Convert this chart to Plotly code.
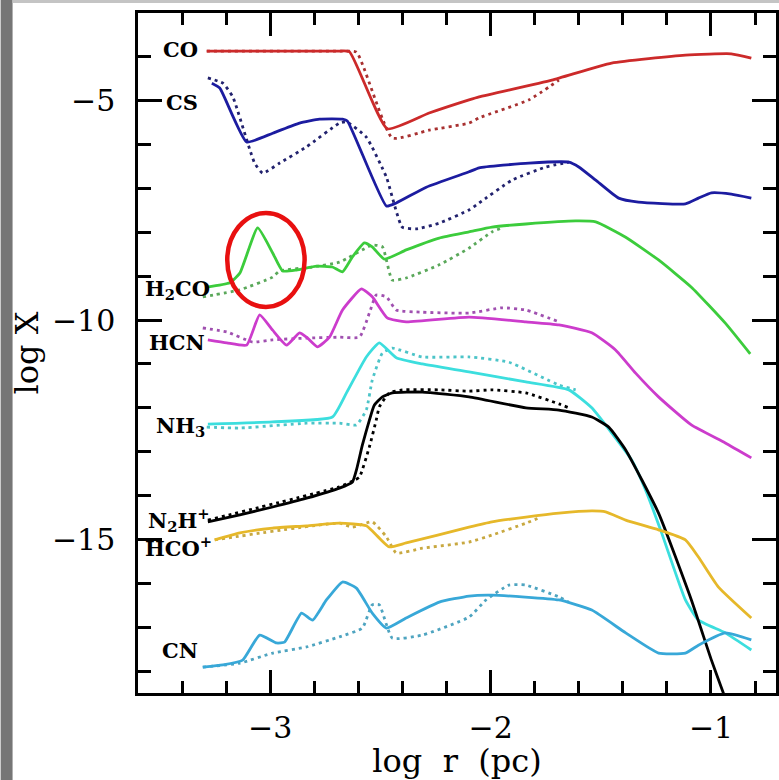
import plotly.graph_objects as go

# ---------------- data (log r [pc], log X) ----------------
co_x  = [-3.288, -2.960, -2.700, -2.641, -2.469, -2.279, -2.098, -2.052, -1.722, -1.451, -1.116, -0.908, -0.817]
co_y  = [-3.87, -3.87, -3.87, -3.88, -5.64, -5.28, -4.98, -4.91, -4.53, -4.14, -3.96, -3.93, -4.03]
co_dx = [-3.288, -2.960, -2.680, -2.609, -2.446, -2.279, -2.098, -2.052, -1.826, -1.690]
co_dy = [-3.87, -3.87, -3.87, -3.89, -5.85, -5.67, -5.51, -5.39, -4.98, -4.53]

cs_x  = [-3.265, -3.229, -3.107, -2.989, -2.867, -2.776, -2.672, -2.650, -2.473, -2.428, -2.292,
         -2.098, -2.052, -1.826, -1.645, -1.600, -1.523, -1.419, -1.329, -1.116, -1.057, -0.998, -0.908, -0.817]
cs_y  = [-4.60, -4.71, -5.94, -5.74, -5.51, -5.42, -5.42, -5.46, -7.40, -7.33, -6.97,
         -6.62, -6.53, -6.42, -6.40, -6.51, -6.81, -7.22, -7.31, -7.35, -7.22, -7.10, -7.13, -7.22]
cs_dx = [-3.283, -3.215, -3.170, -3.071, -3.034, -2.957, -2.835, -2.686, -2.654, -2.564, -2.473,
         -2.401, -2.338, -2.233, -2.098, -2.052, -1.903, -1.749, -1.645]
cs_dy = [-4.48, -4.60, -4.91, -6.42, -6.65, -6.42, -6.05, -5.51, -5.48, -5.83, -6.74,
         -7.88, -7.92, -7.79, -7.49, -7.33, -6.81, -6.51, -6.40]

h2co_x  = [-3.288, -3.184, -3.138, -3.057, -2.989, -2.944, -2.881, -2.790, -2.718, -2.672, -2.627,
           -2.573, -2.537, -2.482, -2.383, -2.233, -2.098, -1.994, -1.840, -1.614, -1.523, -1.387,
           -1.238, -1.089, -0.935, -0.822]
h2co_y  = [-9.25, -9.15, -8.93, -7.90, -8.47, -8.88, -8.86, -8.77, -8.79, -8.90, -8.56,
           -8.24, -8.33, -8.61, -8.40, -8.13, -7.99, -7.88, -7.81, -7.74, -7.76, -8.11,
           -8.63, -9.25, -10.07, -10.77]
h2co_dx = [-3.306, -3.138, -2.989, -2.957, -2.808, -2.686, -2.537, -2.491, -2.446, -2.383, -2.233,
           -2.098, -1.994, -1.948]
h2co_dy = [-9.47, -9.31, -9.02, -8.88, -8.79, -8.68, -8.29, -8.33, -9.09, -9.04, -8.74,
           -8.36, -7.99, -7.90]

hcn_x  = [-3.283, -3.197, -3.107, -3.048, -2.989, -2.926, -2.867, -2.835, -2.786, -2.731, -2.672,
          -2.586, -2.537, -2.469, -2.383, -2.098, -1.840, -1.690, -1.541, -1.433, -1.342, -1.238,
          -1.089, -0.935, -0.817]
hcn_y  = [-10.45, -10.52, -10.57, -9.88, -10.23, -10.57, -10.29, -10.39, -10.61, -10.39, -9.77,
          -9.29, -9.47, -9.95, -10.04, -9.93, -10.04, -10.11, -10.29, -10.68, -11.21, -11.75,
          -12.39, -12.80, -13.14]
hcn_dx = [-3.306, -3.197, -3.080, -2.989, -2.835, -2.686, -2.595, -2.550, -2.519, -2.473, -2.428,
          -2.310, -2.098, -1.948, -1.840, -1.690]
hcn_dy = [-10.18, -10.27, -10.50, -10.45, -10.41, -10.39, -10.39, -9.84, -9.43, -9.47, -9.77,
          -9.82, -9.84, -9.72, -9.77, -10.04]

nh3_x  = [-3.283, -2.989, -2.718, -2.654, -2.564, -2.505, -2.428, -2.310, -2.098, -1.840, -1.645,
          -1.541, -1.451, -1.360, -1.297, -1.224, -1.116, -1.057, -0.935, -0.817]
nh3_y  = [-12.37, -12.32, -12.21, -11.66, -10.84, -10.52, -10.86, -11.00, -11.18, -11.41, -11.59,
          -12.00, -12.57, -13.19, -13.87, -14.85, -16.38, -16.84, -17.13, -17.52]
nh3_dx = [-3.288, -3.138, -2.835, -2.686, -2.609, -2.564, -2.537, -2.491, -2.446, -2.310, -2.098,
          -1.917, -1.690, -1.614]
nh3_dy = [-12.44, -12.46, -12.35, -12.35, -12.39, -12.05, -11.37, -10.75, -10.64, -10.84, -10.84,
          -10.96, -11.48, -11.59]

n2h_x  = [-3.283, -3.138, -2.989, -2.835, -2.686, -2.627, -2.609, -2.582, -2.550, -2.528, -2.491,
          -2.446, -2.310, -2.098, -1.840, -1.690, -1.541, -1.464, -1.387, -1.238, -1.089, -0.998,
          -0.944, -0.926]
n2h_y  = [-14.60, -14.44, -14.26, -14.06, -13.83, -13.69, -13.42, -12.85, -12.28, -11.94, -11.75,
          -11.66, -11.64, -11.75, -12.00, -12.05, -12.21, -12.44, -12.96, -14.40, -16.38, -17.75,
          -18.50, -18.77]
n2h_dx = [-3.283, -2.686, -2.618, -2.595, -2.550, -2.519, -2.505, -2.460, -2.401, -2.233, -2.098,
          -1.994, -1.840, -1.690, -1.645]
n2h_dy = [-14.56, -13.80, -13.65, -13.58, -12.89, -12.28, -11.98, -11.66, -11.59, -11.59, -11.62,
          -11.59, -11.66, -11.91, -12.00]

hco_x  = [-3.252, -3.138, -2.989, -2.835, -2.686, -2.564, -2.505, -2.460, -2.383, -2.098, -1.994,
          -1.840, -1.690, -1.541, -1.478, -1.387, -1.238, -1.116, -1.057, -0.967, -0.817]
hco_y  = [-15.01, -14.85, -14.74, -14.69, -14.63, -14.69, -14.97, -15.17, -15.08, -14.72, -14.60,
          -14.49, -14.40, -14.35, -14.37, -14.56, -14.78, -15.01, -15.40, -16.08, -16.79]
hco_dx = [-3.252, -2.686, -2.627, -2.537, -2.473, -2.428, -2.310, -2.098, -1.994, -1.840, -1.781]
hco_dy = [-15.01, -14.63, -14.72, -14.60, -14.94, -15.31, -15.20, -15.06, -14.90, -14.63, -14.51]

cn_x  = [-3.306, -3.215, -3.125, -3.048, -2.971, -2.935, -2.858, -2.808, -2.745, -2.672, -2.609,
         -2.537, -2.473, -2.383, -2.233, -2.098, -1.994, -1.690, -1.541, -1.387, -1.238, -1.116,
         -1.057, -0.935, -0.817]
cn_y  = [-17.91, -17.86, -17.75, -17.18, -17.36, -17.34, -16.68, -16.84, -16.38, -15.97, -16.11,
         -16.68, -17.02, -16.79, -16.43, -16.29, -16.27, -16.38, -16.61, -17.13, -17.59, -17.59,
         -17.41, -17.13, -17.29]
cn_dx = [-3.306, -3.138, -2.989, -2.835, -2.686, -2.582, -2.537, -2.505, -2.446, -2.310, -2.098,
         -2.021, -1.917, -1.840, -1.690, -1.645]
cn_dy = [-17.91, -17.82, -17.59, -17.45, -17.22, -17.02, -16.49, -16.49, -17.25, -17.18, -16.77,
         -16.38, -16.04, -16.04, -16.31, -16.43]

x_ticks = [-3, -2, -1]
y_ticks = [-5, -10, -15]

series = [
    (co_x, co_y, co_dx, co_dy, "#cc2a2a", "#a83030"),
    (cs_x, cs_y, cs_dx, cs_dy, "#1c1ca0", "#22226e"),
    (h2co_x, h2co_y, h2co_dx, h2co_dy, "#3ccc3c", "#5aa85a"),
    (hcn_x, hcn_y, hcn_dx, hcn_dy, "#cc3ccc", "#a050b0"),
    (nh3_x, nh3_y, nh3_dx, nh3_dy, "#3cdede", "#4cc4c8"),
    (n2h_x, n2h_y, n2h_dx, n2h_dy, "#000000", "#000000"),
    (hco_x, hco_y, hco_dx, hco_dy, "#e6b82a", "#c8a840"),
    (cn_x, cn_y, cn_dx, cn_dy, "#38a8d8", "#4ea4c0"),
]

fig = go.Figure()
for sx, sy, dx, dy, col, dcol in series:
    fig.add_trace(go.Scatter(x=dx, y=dy, mode="lines", showlegend=False,
                             line=dict(color=dcol, width=2.8, dash="3px,4px", shape="spline", smoothing=0.45)))
    fig.add_trace(go.Scatter(x=sx, y=sy, mode="lines", showlegend=False,
                             line=dict(color=col, width=2.8, shape="spline", smoothing=0.45)))

lab_font = dict(family="DejaVu Serif", size=21, color="black")
labels = [
    ("<b>CO</b>", -3.319, -3.84),
    ("<b>CS</b>", -3.319, -5.03),
    ("<b>H<sub>2</sub>CO</b>", -3.265, -9.30),
    ("<b>HCN</b>", -3.287, -10.50),
    ("<b>NH<sub>3</sub></b>", -3.287, -12.42),
    ("<b>N<sub>2</sub>H<sup>+</sup></b>", -3.265, -14.55),
    ("<b>HCO<sup>+</sup></b>", -3.255, -15.18),
    ("<b>CN</b>", -3.319, -17.52),
]
for t, lx, ly in labels:
    fig.add_annotation(x=lx, y=ly, text=t, showarrow=False, xanchor="right", yanchor="middle",
                       font=lab_font)

# highlight ellipse
fig.add_shape(type="circle", xref="x", yref="y", x0=-3.195, x1=-2.844, y0=-7.56, y1=-9.70,
              line=dict(color="#e81010", width=4.5), layer="above")

# screenshot border strips
fig.add_shape(type="rect", xref="paper", yref="paper", x0=-0.2153, x1=-0.1966, y0=-0.2, y1=1.1,
              line=dict(width=0), fillcolor="#767676", layer="above")
fig.add_shape(type="rect", xref="paper", yref="paper", x0=-0.1966, x1=1.01, y0=1.0147, y1=1.1,
              line=dict(width=0), fillcolor="#c4c4c4", layer="above")

tick_font = dict(family="DejaVu Serif", size=30, color="black")
axis_common = dict(showline=True, linecolor="black", linewidth=2.5, mirror="ticks",
                   ticks="inside", tickwidth=2.5, tickcolor="black", showgrid=False,
                   zeroline=False, tickfont=tick_font)

fig.update_xaxes(range=[-3.6, -0.705], tickvals=x_ticks, ticklen=23,
                 minor=dict(dtick=0.2, tick0=-3, ticks="inside", ticklen=12, tickwidth=2.5,
                            tickcolor="black", showgrid=False),
                 ticklabelstandoff=6,
                 title=dict(text="log  r  (pc)", font=dict(family="DejaVu Serif", size=32, color="black"),
                            standoff=0),
                 **axis_common)
fig.update_yaxes(range=[-18.5, -3], tickvals=y_ticks, ticklen=24,
                 minor=dict(dtick=1, tick0=-5, ticks="inside", ticklen=13, tickwidth=2.5,
                            tickcolor="black", showgrid=False),
                 ticklabelstandoff=14,
                 title=dict(text="log X", font=dict(family="DejaVu Serif", size=32, color="black"),
                            standoff=4),
                 **axis_common)

fig.update_layout(width=779, height=780, margin=dict(l=138, r=0, t=13, b=87),
                  paper_bgcolor="white", plot_bgcolor="white", showlegend=False)

fig.write_html("out.html", config={"displayModeBar": False},
               post_script="document.body.style.margin='0';")
